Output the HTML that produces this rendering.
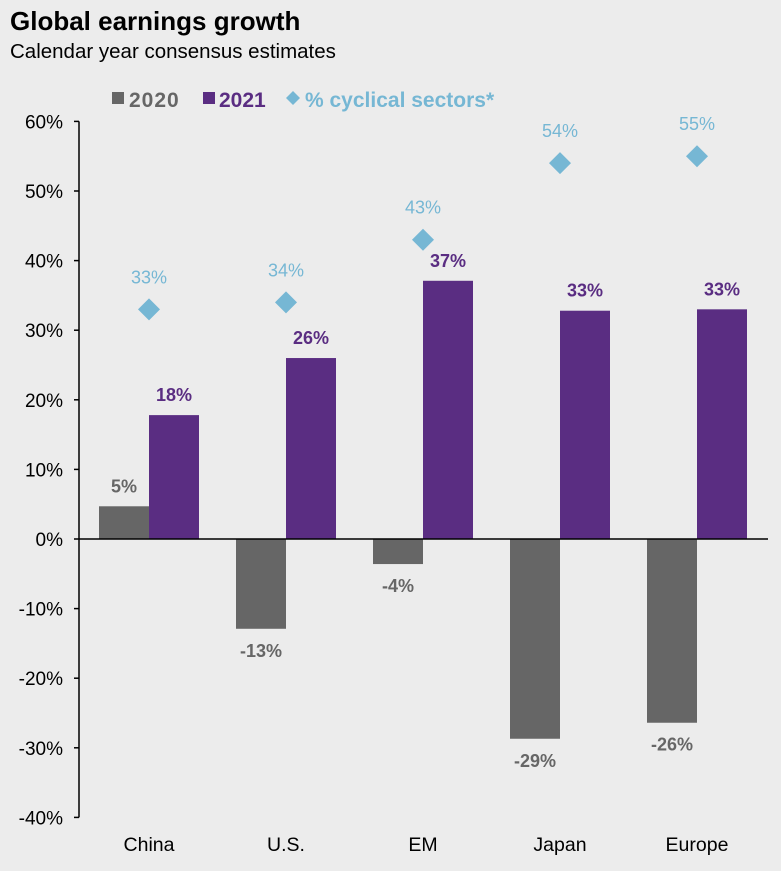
<!DOCTYPE html>
<html><head><meta charset="utf-8"><style>
body{margin:0;background:#fff;}
#wrap{width:781px;height:871px;background:#ececec;position:relative;font-family:"Liberation Sans",Arial,sans-serif;overflow:hidden}
</style></head><body>
<div id="wrap">
<svg id="chart" width="781" height="871" style="position:absolute;left:0;top:0"></svg>
</div>
<script>
const categories=["China","U.S.","EM","Japan","Europe"];
const values2020=[4.7,-12.9,-3.6,-28.7,-26.4];
const labels2020=["5%","-13%","-4%","-29%","-26%"];
const values2021=[17.8,26,37.1,32.8,33];
const labels2021=["18%","26%","37%","33%","33%"];
const cyclical=[33,34,43,54,55];
const cyclicalLabels=["33%","34%","43%","54%","55%"];
const yTicks=[60,50,40,30,20,10,0,-10,-20,-30,-40];

const svg=document.getElementById('chart');
const NS='http://www.w3.org/2000/svg';
const y=v=>539-v*6.96;
const cx=i=>149+i*137;
const C20='#666666',C21='#5a2d82',CD='#76b7d4';
function el(tag,attrs,txt){const e=document.createElementNS(NS,tag);for(const k in attrs)e.setAttribute(k,attrs[k]);if(txt!==undefined)e.textContent=txt;svg.appendChild(e);return e;}

let t;
t=el('text',{x:10,y:30,'font-size':26,'font-weight':'bold',fill:'#000'},'Global earnings growth');


t=el('text',{x:10,y:58,'font-size':20.5,fill:'#000'},'Calendar year consensus estimates');



// legend
t=el('rect',{x:112,y:92,width:12,height:12,fill:C20});


t=el('text',{x:129,y:107,'font-size':21,'font-weight':'bold',fill:C20,'letter-spacing':'1'},'2020');


t=el('rect',{x:203,y:92,width:12,height:12,fill:C21});


t=el('text',{x:219,y:107,'font-size':21,'font-weight':'bold',fill:C21},'2021');


t=el('polygon',{points:'293,91 300,98 293,105 286,98',fill:CD});


t=el('text',{x:305,y:107,'font-size':21,'font-weight':'bold',fill:CD},'% cyclical sectors*');



// y axis
yTicks.forEach(v=>{
  const tk=el('text',{x:63,y:y(v)+7,'font-size':19,'text-anchor':'end',fill:'#000'},v+'%');
  
  
  const tl=el('line',{x1:74,x2:79,y1:y(v),y2:y(v),stroke:'#000','stroke-width':1.5});
  
  
});
t=el('line',{x1:79,x2:79,y1:y(60),y2:y(-40),stroke:'#000','stroke-width':1.5});



const bw=50;
categories.forEach((c,i)=>{
  const x=cx(i);
  const v0=values2020[i],v1=values2021[i];
  let r=el('rect',{x:x-bw,y:Math.min(y(v0),y(0)),width:bw,height:Math.abs(y(v0)-y(0)),fill:C20});
  
  
  r=el('rect',{x:x,y:Math.min(y(v1),y(0)),width:bw,height:Math.abs(y(v1)-y(0)),fill:C21});
  
  
  let ly=v0>=0?y(v0)-14:y(v0)+28;
  let l=el('text',{x:x-bw/2,y:ly,'font-size':18,'font-weight':'bold','text-anchor':'middle',fill:C20},labels2020[i]);
  
  
  l=el('text',{x:x+bw/2,y:y(v1)-14,'font-size':18,'font-weight':'bold','text-anchor':'middle',fill:C21},labels2021[i]);
  
  
  const dy=y(cyclical[i]);
  const d=el('polygon',{points:`${x},${dy-11} ${x+11},${dy} ${x},${dy+11} ${x-11},${dy}`,fill:CD});
  
  
  l=el('text',{x:x,y:dy-26,'font-size':18,'text-anchor':'middle',fill:CD},cyclicalLabels[i]);
  
  
  l=el('text',{x:x,y:851,'font-size':19.5,'text-anchor':'middle',fill:'#000'},c);
  
  
});
t=el('line',{x1:79,x2:768,y1:y(0),y2:y(0),stroke:'#000','stroke-width':1.5});


</script>
</body></html>
